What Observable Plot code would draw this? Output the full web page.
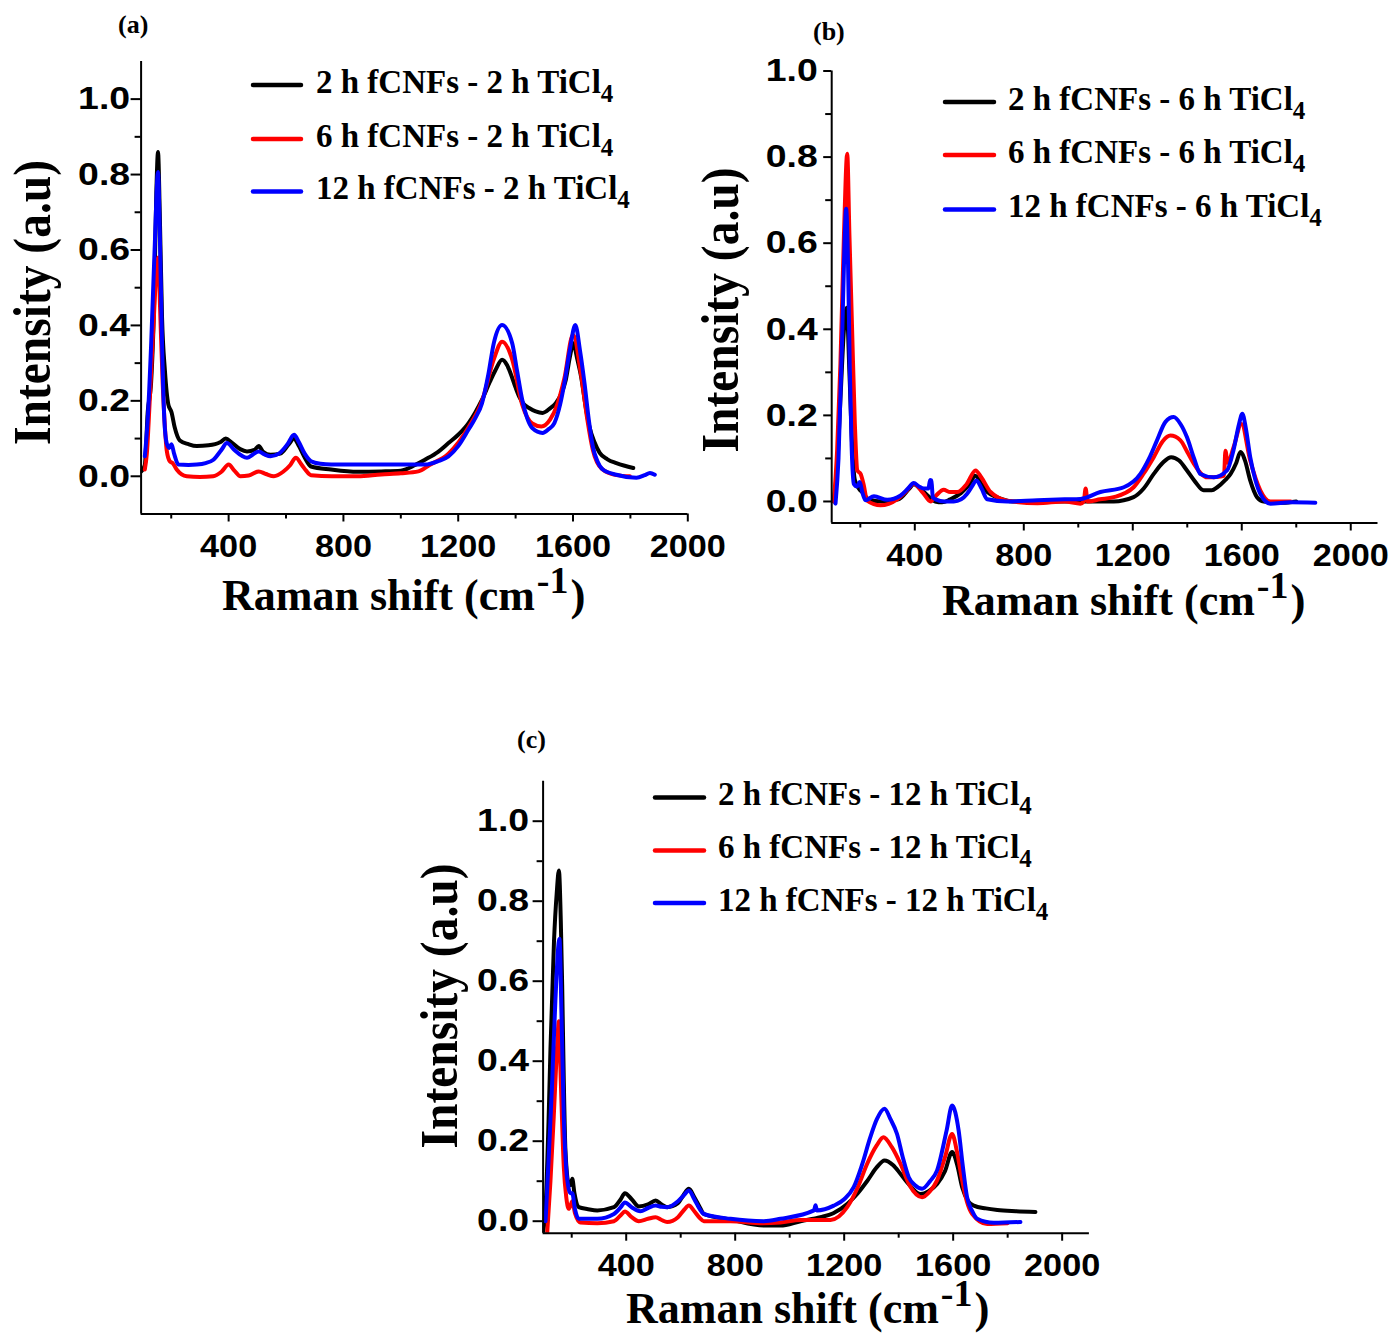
<!DOCTYPE html>
<html><head><meta charset="utf-8">
<script src="https://cdn.jsdelivr.net/npm/d3@7"></script>
<script src="https://cdn.jsdelivr.net/npm/@observablehq/plot@0.6"></script>
<style>
body{margin:0;background:#fff;}
#fig{position:relative;width:1390px;height:1334px;overflow:hidden;background:#fff;}
#fig > svg{position:absolute;overflow:visible;}
</style></head><body><div id="fig"></div>
<script>
// ---------- data (Raman shift cm-1, intensity a.u.) ----------
const colors = ["#000000", "#ff0000", "#0000ff"];
const legendA = ["2 h fCNFs - 2 h TiCl", "6 h fCNFs - 2 h TiCl", "12 h fCNFs - 2 h TiCl"];
const legendB = ["2 h fCNFs - 6 h TiCl", "6 h fCNFs - 6 h TiCl", "12 h fCNFs - 6 h TiCl"];
const legendC = ["2 h fCNFs - 12 h TiCl", "6 h fCNFs - 12 h TiCl", "12 h fCNFs - 12 h TiCl"];
const xMajor = [400, 800, 1200, 1600, 2000];
const xMinor = [200, 600, 1000, 1400, 1800];
const yMajor = [0, 0.2, 0.4, 0.6, 0.8, 1.0];
const yMinor = [0.1, 0.3, 0.5, 0.7, 0.9];

const aBlack = [[96,0.013],[108,0.03],[118,0.17],[130,0.25],[140,0.45],[148,0.75],[154,0.86],[160,0.70],[168,0.42],[178,0.28],[190,0.19],[201,0.17],[212,0.13],[230,0.095],[260,0.085],[289,0.08],[330,0.082],[370,0.09],[390,0.10],[410,0.09],[440,0.072],[464,0.066],[490,0.07],[505,0.08],[520,0.065],[546,0.057],[580,0.06],[610,0.085],[628,0.10],[645,0.08],[665,0.05],[687,0.026],[757,0.018],[850,0.012],[932,0.013],[1000,0.015],[1050,0.03],[1084,0.044],[1130,0.065],[1166,0.088],[1200,0.11],[1236,0.141],[1260,0.17],[1283,0.203],[1310,0.25],[1330,0.282],[1353,0.309],[1370,0.295],[1382,0.274],[1400,0.235],[1412,0.212],[1430,0.19],[1447,0.181],[1470,0.172],[1494,0.168],[1520,0.18],[1540,0.194],[1560,0.22],[1575,0.256],[1590,0.32],[1601,0.353],[1615,0.31],[1628,0.265],[1645,0.18],[1657,0.132],[1675,0.09],[1693,0.062],[1720,0.045],[1751,0.035],[1780,0.028],[1810,0.022]];
const aRed = [[108,0.018],[115,0.06],[125,0.2],[138,0.4],[150,0.56],[155,0.58],[161,0.45],[170,0.25],[178,0.13],[184,0.07],[195,0.04],[205,0.035],[219,0.018],[254,0.0],[300,-0.002],[346,0.0],[375,0.012],[400,0.031],[420,0.015],[441,0.0],[470,0.002],[505,0.013],[530,0.006],[558,0.0],[590,0.012],[615,0.03],[634,0.049],[655,0.03],[670,0.015],[687,0.003],[760,0.0],[850,0.0],[932,0.005],[1000,0.008],[1061,0.013],[1100,0.03],[1166,0.06],[1236,0.13],[1283,0.2],[1324,0.31],[1353,0.357],[1388,0.31],[1423,0.19],[1458,0.14],[1490,0.132],[1520,0.15],[1545,0.19],[1570,0.26],[1600,0.375],[1628,0.27],[1650,0.15],[1669,0.07],[1700,0.02],[1751,0.003],[1798,0.0]];
const aBlue = [[108,0.053],[118,0.15],[130,0.35],[142,0.6],[154,0.807],[160,0.65],[168,0.35],[176,0.15],[184,0.088],[193,0.075],[201,0.085],[210,0.06],[225,0.031],[260,0.03],[289,0.031],[320,0.035],[347,0.044],[375,0.07],[394,0.088],[420,0.07],[445,0.055],[464,0.049],[485,0.058],[505,0.066],[525,0.058],[546,0.053],[575,0.06],[605,0.085],[628,0.11],[645,0.09],[665,0.06],[687,0.04],[720,0.033],[757,0.031],[850,0.031],[950,0.031],[1084,0.031],[1130,0.04],[1166,0.053],[1200,0.08],[1236,0.124],[1260,0.155],[1283,0.194],[1305,0.27],[1324,0.353],[1353,0.401],[1388,0.353],[1405,0.28],[1423,0.203],[1440,0.155],[1458,0.128],[1494,0.115],[1515,0.125],[1535,0.141],[1555,0.19],[1570,0.247],[1590,0.34],[1608,0.401],[1625,0.33],[1640,0.247],[1655,0.15],[1669,0.079],[1685,0.04],[1704,0.018],[1751,0.004],[1821,-0.004],[1850,0.003],[1868,0.009],[1885,0.004]];

const bBlack = [[103,0.0],[115,0.08],[128,0.25],[140,0.4],[150,0.45],[160,0.3],[170,0.13],[180,0.05],[195,0.03],[210,0.02],[230,0.005],[280,0.0],[340,0.005],[380,0.03],[396,0.04],[420,0.03],[450,0.012],[475,0.0],[500,-0.002],[530,0.005],[570,0.02],[600,0.04],[622,0.06],[645,0.04],[670,0.02],[700,0.01],[760,0.0],[900,0.0],[1008,0.0],[1130,0.0],[1203,0.01],[1240,0.03],[1277,0.064],[1310,0.09],[1341,0.103],[1370,0.095],[1399,0.072],[1430,0.045],[1460,0.026],[1490,0.026],[1510,0.033],[1540,0.05],[1559,0.064],[1580,0.09],[1595,0.115],[1612,0.095],[1631,0.049],[1656,0.01],[1680,0.0],[1750,-0.003],[1800,0.0]];
const bRed = [[103,0.0],[115,0.12],[127,0.32],[140,0.62],[152,0.808],[160,0.62],[170,0.397],[180,0.18],[189,0.072],[201,0.064],[212,0.04],[225,0.002],[274,-0.009],[335,0.005],[370,0.025],[396,0.041],[430,0.02],[458,0.0],[480,0.015],[506,0.027],[530,0.022],[556,0.022],[590,0.04],[623,0.072],[645,0.055],[678,0.022],[739,0.002],[850,-0.004],[950,0.0],[1008,-0.005],[1020,0.0],[1027,0.03],[1034,0.0],[1080,0.005],[1130,0.01],[1203,0.033],[1240,0.065],[1277,0.103],[1310,0.14],[1338,0.153],[1375,0.142],[1400,0.115],[1424,0.088],[1450,0.065],[1473,0.056],[1522,0.058],[1535,0.06],[1540,0.118],[1548,0.09],[1570,0.126],[1599,0.18],[1631,0.095],[1668,0.026],[1705,0.0],[1780,0.0]];
const bBlue = [[109,-0.005],[120,0.1],[134,0.397],[142,0.6],[148,0.68],[155,0.55],[161,0.32],[168,0.13],[176,0.041],[188,0.035],[198,0.045],[208,0.02],[219,0.003],[250,0.012],[299,0.004],[348,0.014],[375,0.03],[396,0.043],[415,0.035],[433,0.03],[450,0.03],[456,0.05],[461,0.049],[466,0.01],[476,0.005],[510,0.0],[543,0.0],[570,0.005],[592,0.018],[610,0.035],[626,0.049],[645,0.03],[666,0.005],[739,0.0],[850,0.003],[950,0.005],[1008,0.006],[1081,0.022],[1167,0.033],[1228,0.064],[1260,0.1],[1289,0.142],[1320,0.185],[1350,0.196],[1375,0.18],[1399,0.149],[1425,0.1],[1448,0.064],[1497,0.056],[1546,0.072],[1570,0.12],[1590,0.18],[1602,0.204],[1615,0.17],[1631,0.103],[1650,0.05],[1668,0.018],[1705,-0.005],[1778,-0.002],[1870,-0.003]];

const cBlack = [[95,-0.03],[105,0.05],[115,0.25],[122,0.43],[135,0.7],[145,0.82],[153,0.877],[160,0.75],[165,0.59],[171,0.35],[177,0.177],[189,0.094],[196,0.09],[202,0.106],[210,0.07],[226,0.035],[260,0.03],[294,0.027],[355,0.035],[380,0.055],[395,0.07],[420,0.055],[446,0.037],[480,0.042],[508,0.052],[530,0.042],[550,0.035],[590,0.045],[610,0.065],[630,0.081],[650,0.06],[670,0.035],[685,0.018],[783,0.004],[905,-0.011],[966,-0.011],[1040,0.0],[1113,0.01],[1160,0.02],[1211,0.043],[1250,0.07],[1284,0.1],[1320,0.135],[1348,0.152],[1380,0.14],[1407,0.118],[1440,0.09],[1480,0.068],[1510,0.075],[1541,0.093],[1570,0.125],[1596,0.173],[1615,0.14],[1633,0.085],[1655,0.05],[1676,0.039],[1720,0.032],[1762,0.028],[1830,0.025],[1902,0.023]];
const cRed = [[110,-0.03],[122,0.1],[134,0.26],[145,0.42],[153,0.5],[160,0.35],[171,0.135],[180,0.06],[189,0.031],[196,0.04],[202,0.05],[212,0.02],[232,-0.003],[294,-0.005],[355,0.0],[380,0.015],[395,0.024],[420,0.01],[446,0.0],[480,0.006],[508,0.01],[530,0.003],[550,-0.002],[590,0.01],[612,0.028],[630,0.039],[650,0.025],[670,0.008],[685,0.0],[783,0.0],[900,-0.005],[966,-0.003],[1040,0.003],[1150,0.003],[1211,0.035],[1250,0.085],[1284,0.143],[1320,0.19],[1344,0.21],[1375,0.185],[1407,0.143],[1440,0.09],[1486,0.06],[1515,0.075],[1541,0.102],[1570,0.16],[1596,0.218],[1615,0.17],[1633,0.102],[1650,0.05],[1670,0.018],[1725,-0.007],[1800,-0.005]];
const cBlue = [[104,0.0],[115,0.15],[128,0.343],[140,0.55],[155,0.706],[163,0.5],[171,0.26],[180,0.13],[189,0.081],[196,0.07],[202,0.07],[212,0.03],[226,0.006],[294,0.006],[355,0.018],[380,0.035],[395,0.047],[420,0.035],[452,0.025],[480,0.033],[508,0.039],[530,0.036],[550,0.035],[590,0.05],[612,0.065],[630,0.077],[650,0.055],[670,0.03],[685,0.018],[783,0.006],[905,0.0],[966,0.006],[1089,0.027],[1095,0.04],[1100,0.027],[1162,0.039],[1200,0.055],[1235,0.085],[1265,0.14],[1296,0.21],[1320,0.255],[1348,0.281],[1370,0.255],[1394,0.218],[1415,0.16],[1437,0.11],[1460,0.09],[1486,0.081],[1515,0.1],[1541,0.127],[1576,0.227],[1596,0.289],[1620,0.227],[1635,0.14],[1651,0.06],[1670,0.025],[1688,0.006],[1749,-0.004],[1847,-0.002]];

// ---------- panels ----------
const fig = document.getElementById("fig");

function panel(cfg) {
  const [x0, x1] = cfg.xDomain, [y0, y1] = cfg.yDomain;
  const marks = [];
  cfg.series.forEach((s, i) => {
    marks.push(Plot.line(s, {x: d => d[0], y: d => d[1], stroke: colors[i], strokeWidth: 4,
      curve: "monotone-x", clip: true, strokeLinejoin: "round"}));
  });
  marks.push(Plot.ruleX([x0], {y1: y0, y2: y1, stroke: "black", strokeWidth: 2}));
  marks.push(Plot.ruleY([y0], {x1: x0, x2: x1, stroke: "black", strokeWidth: 2}));
  marks.push(Plot.axisX({ticks: xMajor, tickSize: 8, tickPadding: cfg.xPad, strokeWidth: 2,
    tickFormat: d => String(d), label: null}));
  marks.push(Plot.axisX({ticks: xMinor, tickSize: 5, strokeWidth: 2, tickFormat: () => "", label: null}));
  marks.push(Plot.axisY({ticks: yMajor, tickSize: cfg.yTick, tickPadding: cfg.yPad, strokeWidth: 2,
    tickFormat: d3.format(".1f"), label: null}));
  marks.push(Plot.axisY({ticks: yMinor, tickSize: 6, strokeWidth: 2, tickFormat: () => "", label: null}));
  const svg = Plot.plot({
    width: cfg.w, height: cfg.h,
    marginLeft: cfg.ml, marginRight: cfg.w - cfg.ml - cfg.pw,
    marginTop: cfg.mt, marginBottom: cfg.h - cfg.mt - cfg.ph,
    x: {domain: cfg.xDomain},
    y: {domain: cfg.yDomain},
    style: {fontFamily: "'Liberation Sans', Arial, sans-serif", fontWeight: "bold", fontSize: "32px",
      color: "black", background: "transparent", overflow: "visible"},
    marks
  });
  svg.style.left = cfg.left + "px";
  svg.style.top = cfg.top + "px";
  fig.appendChild(svg);
  svg.querySelectorAll('g[aria-label="y-axis tick label"] text').forEach(t => {
    const w = t.getComputedTextLength();
    if (w > 0) { t.setAttribute("textLength", (w * 1.17).toFixed(1)); t.setAttribute("lengthAdjust", "spacingAndGlyphs"); }
  });
  svg.querySelectorAll('g[aria-label="x-axis tick label"] text').forEach(t => {
    const w = t.getComputedTextLength();
    if (w > 0) { t.setAttribute("textLength", (w * 1.07).toFixed(1)); t.setAttribute("lengthAdjust", "spacingAndGlyphs"); }
  });
}

// panel (a): plot frame 140.6..687.3 x 60.9..513.5
panel({series: [aBlack, aRed, aBlue], xDomain: [95, 2000], yDomain: [-0.1, 1.1],
  left: 0, top: 0, w: 740, h: 640, ml: 140.6, pw: 546.7, mt: 60.9, ph: 452.6,
  xPad: 12, yTick: 10, yPad: 1});
// panel (b): frame 831.2..1377.5 x 70.5..522.5
panel({series: [bBlack, bRed, bBlue], xDomain: [95, 2100], yDomain: [-0.05, 1.0],
  left: 700, top: 0, w: 690, h: 640, ml: 131.2, pw: 546.3, mt: 70.5, ph: 452,
  xPad: 12, yTick: 8, yPad: 6});
// panel (c): frame 542.6..1088.9 x 780.7..1232.7
panel({series: [cBlack, cRed, cBlue], xDomain: [95, 2100], yDomain: [-0.03, 1.1],
  left: 400, top: 720, w: 720, h: 614, ml: 142.6, pw: 546.3, mt: 60.7, ph: 452,
  xPad: 12, yTick: 10, yPad: 4});

// ---------- text overlay: panel tags, axis titles, legends ----------
const ov = d3.select(fig).append("svg")
  .attr("width", 1390).attr("height", 1334)
  .style("left", "0px").style("top", "0px")
  .attr("font-family", "'Liberation Serif', 'Times New Roman', serif")
  .attr("font-weight", "bold").attr("fill", "black");

function tag(label, x, y) {
  ov.append("text").attr("x", x).attr("y", y).attr("font-size", 26).text(label);
}
tag("(a)", 118, 33);
tag("(b)", 813, 40);
tag("(c)", 517, 748);

function xTitle(x, y) {
  const t = ov.append("text").attr("x", x).attr("y", y).attr("font-size", 44);
  t.append("tspan").text("Raman shift (cm");
  t.append("tspan").attr("font-size", 38).attr("dx", 2).attr("dy", -17).text("-1");
  t.append("tspan").attr("font-size", 45).attr("dx", 2).attr("dy", 17).text(")");
}
xTitle(222, 610);
xTitle(942, 615);
xTitle(626, 1323);

function yTitle(x, y) {
  ov.append("text").attr("transform", `translate(${x},${y}) scale(1.15,1) rotate(-90)`)
    .attr("text-anchor", "middle").attr("font-size", 45)
    .attr("textLength", 285).attr("lengthAdjust", "spacingAndGlyphs")
    .text("Intensity (a.u)");
}
yTitle(50, 302.5);
yTitle(737.5, 310);
yTitle(457, 1006);

function legend(labels, lx0, lx1, tx, ys) {
  labels.forEach((lab, i) => {
    ov.append("line").attr("x1", lx0).attr("x2", lx1).attr("y1", ys[i]).attr("y2", ys[i])
      .attr("stroke", colors[i]).attr("stroke-width", 4.5).attr("stroke-linecap", "round");
    const t = ov.append("text").attr("x", tx).attr("y", ys[i] + 7.5).attr("font-size", 33);
    t.append("tspan").text(lab);
    t.append("tspan").attr("font-size", 25).attr("dy", 9).text("4");
  });
}
legend(legendA, 253, 301, 316, [85, 139, 191.5]);
legend(legendB, 945, 994, 1008, [102, 155, 209.5]);
legend(legendC, 655, 704, 718, [797.5, 850.5, 903]);
</script></body></html>
